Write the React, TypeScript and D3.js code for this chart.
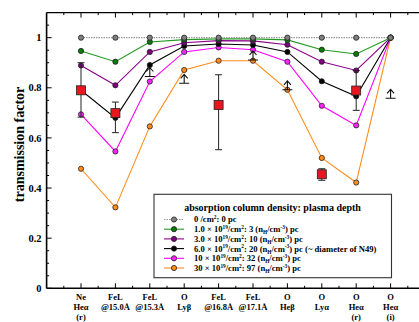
import * as d3 from "d3"

const categories = [
  ["Ne", "Heα", "(r)"],
  ["FeL", "@15.0Å"],
  ["FeL", "@15.3Å"],
  ["O", "Lyβ"],
  ["FeL", "@16.8Å"],
  ["FeL", "@17.1Å"],
  ["O", "Heβ"],
  ["O", "Lyα"],
  ["O", "Heα", "(r)"],
  ["O", "Heα", "(i)"],
]

const depth0 = [1, 1, 1, 1, 1, 1, 1, 1, 1, 1]
const depth1 = [0.947, 0.904, 0.983, 0.992, 0.995, 0.995, 0.991, 0.952, 0.935, 1]
const depth3 = [0.889, 0.81, 0.943, 0.98, 0.988, 0.987, 0.972, 0.904, 0.869, 1]
const depth6 = [0.79, 0.68, 0.891, 0.967, 0.975, 0.971, 0.943, 0.826, 0.766, 1]
const depth10 = [0.694, 0.546, 0.825, 0.943, 0.961, 0.952, 0.904, 0.728, 0.65, 1]
const depth30 = [0.477, 0.323, 0.646, 0.871, 0.908, 0.908, 0.792, 0.52, 0.422, 1]

// observed ratios: category index, value, low, high
const observed = [
  { i: 0, v: 0.79, lo: 0.683, hi: 0.9 },
  { i: 1, v: 0.699, lo: 0.621, hi: 0.743 },
  { i: 4, v: 0.731, lo: 0.553, hi: 0.852 },
  { i: 7, v: 0.455, lo: 0.431, hi: 0.477 },
  { i: 8, v: 0.789, lo: 0.71, hi: 0.869 },
]

// lower limits (arrow pointing up)
const limits = [
  { i: 2, v: 0.845 },
  { i: 3, v: 0.818 },
  { i: 5, v: 0.911 },
  { i: 6, v: 0.792 },
  { i: 9, v: 0.758 },
]

const yTicks = [0, 0.2, 0.4, 0.6, 0.8, 1]

const series = [
  { name: "30", data: depth30, line: "#ff8c1a", fill: "#ff8c1a", dash: "" },
  { name: "10", data: depth10, line: "#ff00ff", fill: "#ff22ff", dash: "" },
  { name: "6", data: depth6, line: "#000000", fill: "#000000", dash: "" },
  { name: "3", data: depth3, line: "#8b008b", fill: "#800080", dash: "" },
  { name: "1", data: depth1, line: "#1f9a1f", fill: "#0a7a0a", dash: "" },
  { name: "0", data: depth0, line: "#9a9a9a", fill: "#808080", dash: "1.5,1" },
]

const font = "'Liberation Serif', 'DejaVu Serif', serif"

type Part = [string, string?]

const legendLabels: Part[][] = [
  [["0 /cm"], ["2", "sup"], [": 0 pc"]],
  [["1.0 × 10"], ["19", "sup"], ["/cm"], ["2", "sup"], [": 3 (n"], ["H", "sub"], ["/cm"], ["-3", "sup"], [") pc"]],
  [["3.0 × 10"], ["19", "sup"], ["/cm"], ["2", "sup"], [": 10 (n"], ["H", "sub"], ["/cm"], ["-3", "sup"], [") pc"]],
  [["6.0 × 10"], ["19", "sup"], ["/cm"], ["2", "sup"], [": 20 (n"], ["H", "sub"], ["/cm"], ["-3", "sup"], [") pc (~ diameter of N49)"]],
  [["10 × 10"], ["19", "sup"], ["/cm"], ["2", "sup"], [": 32 (n"], ["H", "sub"], ["/cm"], ["-3", "sup"], [") pc"]],
  [["30 × 10"], ["19", "sup"], ["/cm"], ["2", "sup"], [": 97 (n"], ["H", "sub"], ["/cm"], ["-3", "sup"], [") pc"]],
]

const RichText = ({ parts, x, y, size }: { parts: Part[]; x: number; y: number; size: number }) => {
  let offset = 0
  return (
    <text x={x} y={y} fontSize={size} fontWeight="bold">
      {parts.map((p, j) => {
        const target = p[1] === "sup" ? -size * 0.38 : p[1] === "sub" ? size * 0.25 : 0
        const dy = target - offset
        offset = target
        return (
          <tspan key={j} dy={dy} fontSize={p[1] ? size * 0.62 : size}>
            {p[0]}
          </tspan>
        )
      })}
    </text>
  )
}

const App = () => {
  const W = 419
  const H = 322
  const x = d3.scaleLinear().domain([0, 11]).range([46.6, 425])
  const y = d3.scaleLinear().domain([0, 1.1]).range([288.3, 12.6])
  const top = y(1.1)
  const bottom = y(0)
  const left = x(0)

  const line = d3
    .line<number>()
    .x((_, i) => x(i + 1))
    .y(d => y(d))

  const majorX = d3.range(1, 12)
  const minorX = d3.range(0.5, 11.5, 1)
  const minorY = d3.range(0.05, 1.1, 0.05).filter(v => Math.abs(v * 5 - Math.round(v * 5)) > 0.01)

  const legendSeries = [series[5], series[4], series[3], series[2], series[1], series[0]]

  return (
    <div style={{ position: "absolute", left: 0, top: 0 }}>
      <svg width={W} height={H} style={{ display: "block", background: "#fff" }} fontFamily={font}>
        {/* series lines */}
        {series.map(s => (
          <path
            key={"l" + s.name}
            d={line(s.data) || ""}
            fill="none"
            stroke={s.line}
            strokeWidth={1.1}
            strokeDasharray={s.dash || undefined}
          />
        ))}
        {series.map(s =>
          s.data.map((v, i) => (
            <circle
              key={"c" + s.name + i}
              cx={x(i + 1)}
              cy={y(v)}
              r={2.6}
              fill={s.fill}
              stroke="#222"
              strokeWidth={0.8}
            />
          ))
        )}

        {/* observed error bars */}
        {observed.map(o => (
          <g key={"o" + o.i} stroke="#222" strokeWidth={1}>
            <line x1={x(o.i + 1)} x2={x(o.i + 1)} y1={y(o.hi)} y2={y(o.lo)} />
            <line x1={x(o.i + 1) - 3.5} x2={x(o.i + 1) + 3.5} y1={y(o.hi)} y2={y(o.hi)} />
            <line x1={x(o.i + 1) - 3.5} x2={x(o.i + 1) + 3.5} y1={y(o.lo)} y2={y(o.lo)} />
            <rect x={x(o.i + 1) - 4.5} y={y(o.v) - 4.5} width={9} height={9} fill="#e8161e" strokeWidth={0.8} />
          </g>
        ))}

        {/* lower limits */}
        {limits.map(l => {
          const cx = x(l.i + 1)
          const cy = y(l.v)
          return (
            <path
              key={"a" + l.i}
              d={`M${cx - 5},${cy}H${cx + 5}M${cx},${cy}V${cy - 9}M${cx - 3.5},${cy - 5}L${cx},${cy - 9}L${cx + 3.5},${cy - 5}`}
              fill="none"
              stroke="#111"
              strokeWidth={1.1}
            />
          )
        })}

        {/* axes */}
        <g stroke="#000">
          <line x1={left} x2={W} y1={bottom} y2={bottom} strokeWidth={1.6} />
          <line x1={left} x2={W} y1={top} y2={top} strokeWidth={1.2} />
          <line x1={left} x2={left} y1={top} y2={bottom} strokeWidth={1.6} />
          {majorX.map(i => (
            <g key={"mx" + i} strokeWidth={1}>
              <line x1={x(i)} x2={x(i)} y1={bottom} y2={bottom - 5} />
              <line x1={x(i)} x2={x(i)} y1={top} y2={top + 5} />
            </g>
          ))}
          {minorX.map(i => (
            <g key={"nx" + i} strokeWidth={1}>
              <line x1={x(i)} x2={x(i)} y1={bottom} y2={bottom - 2.5} />
              <line x1={x(i)} x2={x(i)} y1={top} y2={top + 2.5} />
            </g>
          ))}
          {yTicks.map(t => (
            <line key={"my" + t} x1={left} x2={left + 5} y1={y(t)} y2={y(t)} strokeWidth={1} />
          ))}
          {minorY.map(t => (
            <line key={"ny" + t} x1={left} x2={left + 2.5} y1={y(t)} y2={y(t)} strokeWidth={1} />
          ))}
        </g>

        {yTicks.map(t => (
          <text
            key={"ty" + t}
            x={left - 5}
            y={y(t) + 3.6}
            textAnchor="end"
            fontSize={10.5}
            fontWeight="bold"
          >
            {t === 0 || t === 1 ? String(t) : t.toFixed(1)}
          </text>
        ))}

        {categories.map((c, i) => (
          <text key={"cat" + i} x={x(i + 1)} textAnchor="middle" fontSize={8.5} fontWeight="bold">
            {c.map((s, k) => (
              <tspan key={k} x={x(i + 1)} y={299.5 + k * 10.3}>
                {s}
              </tspan>
            ))}
          </text>
        ))}

        <text
          transform={`translate(24,${(top + bottom) / 2 - 6}) rotate(-90)`}
          textAnchor="middle"
          fontSize={14}
          fontWeight="bold"
        >
          transmission factor
        </text>

        {/* legend */}
        <g>
          <rect x={154} y={194.3} width={237.5} height={83.4} fill="#fff" stroke="#333" strokeWidth={1.1} />
          <text x={272.5} y={210.5} textAnchor="middle" fontSize={10} fontWeight="bold">
            absorption column density: plasma depth
          </text>
          {legendSeries.map((s, k) => {
            const ry = 219.5 + k * 9.7
            return (
              <g key={"lg" + k}>
                <line
                  x1={164}
                  x2={184}
                  y1={ry}
                  y2={ry}
                  stroke={s.line}
                  strokeWidth={1.1}
                  strokeDasharray={s.dash || undefined}
                />
                <circle cx={174} cy={ry} r={2.6} fill={s.fill} stroke="#222" strokeWidth={0.8} />
                <RichText parts={legendLabels[k]} x={194} y={ry + 2.9} size={8.6} />
              </g>
            )
          })}
        </g>
      </svg>
    </div>
  )
}

export default App
